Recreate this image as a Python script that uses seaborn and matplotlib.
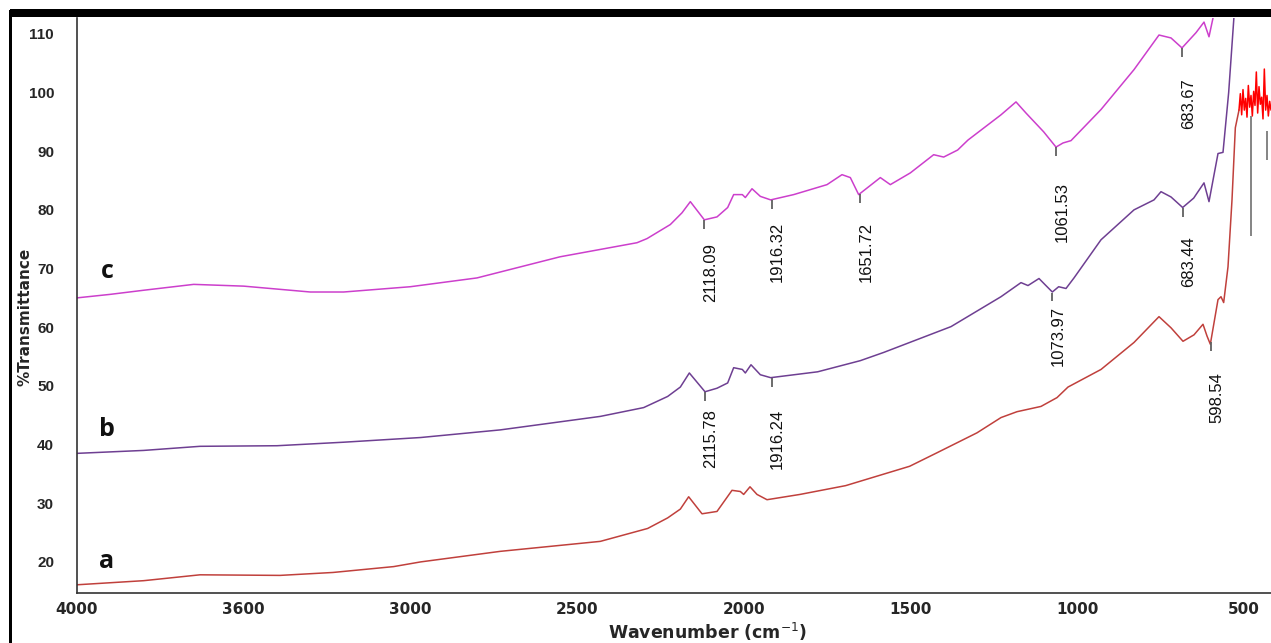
import numpy as np
import seaborn as sns
import matplotlib.pyplot as plt
from matplotlib.patches import Rectangle
from matplotlib.ticker import MultipleLocator

# spectrum c (top, magenta)
wn_c = [4000, 3900, 3800, 3650, 3500, 3300, 3200, 3000, 2800, 2551, 2320, 2290, 2220, 2185,
        2160, 2118, 2080, 2048, 2030, 2004, 1995, 1975, 1950, 1919, 1850, 1750, 1705, 1680,
        1655, 1590, 1560, 1500, 1430, 1400, 1358, 1327, 1228, 1183, 1153, 1100, 1063, 1042,
        1018, 928, 829, 754, 718, 685, 643, 619, 604, 589, 580]
t_c = [65.0, 65.6, 66.3, 67.3, 67.0, 66.0, 66.0, 66.9, 68.4, 72.0, 74.4, 75.1, 77.5, 79.5,
       81.4, 78.3, 78.8, 80.4, 82.6, 82.6, 82.1, 83.6, 82.3, 81.7, 82.6, 84.3, 86.0, 85.5,
       82.6, 85.5, 84.3, 86.3, 89.4, 89.0, 90.2, 91.9, 96.2, 98.4, 96.5, 93.3, 90.7, 91.4,
       91.8, 97.1, 103.9, 109.8, 109.3, 107.6, 110.2, 112.0, 109.5, 113.5, 118.0]

# spectrum b (middle, purple)
wn_b = [4000, 3800, 3631, 3400, 3200, 2969, 2730, 2430, 2300, 2228, 2190, 2163, 2116, 2080,
        2048, 2030, 2004, 1995, 1978, 1950, 1919, 1778, 1650, 1580, 1378, 1228, 1168, 1147,
        1114, 1095, 1074, 1055, 1033, 1009, 928, 829, 769, 748, 718, 683, 650, 619, 604,
        577, 562, 545, 529, 520]
t_b = [38.5, 39.0, 39.7, 39.8, 40.4, 41.2, 42.5, 44.8, 46.3, 48.2, 49.8, 52.2, 49.0, 49.6,
       50.5, 53.1, 52.8, 52.2, 53.6, 51.9, 51.4, 52.4, 54.3, 55.7, 60.1, 65.2, 67.6, 67.1,
       68.3, 67.2, 66.0, 66.9, 66.6, 68.4, 74.9, 80.0, 81.7, 83.1, 82.2, 80.4, 82.0, 84.6,
       81.4, 89.6, 89.8, 100.0, 113.0, 118.0]

# spectrum a (bottom, red)
wn_a = [4000, 3800, 3631, 3391, 3232, 3050, 2969, 2730, 2430, 2288, 2228, 2190, 2165, 2125,
        2080, 2035, 2010, 2000, 1981, 1960, 1930, 1831, 1694, 1502, 1420, 1300, 1228, 1180,
        1108, 1060, 1027, 928, 829, 754, 718, 682, 649, 622, 610, 600, 577, 568, 560, 547,
        535, 525, 514]
t_a = [16.1, 16.8, 17.8, 17.7, 18.2, 19.2, 20.0, 21.8, 23.5, 25.7, 27.5, 29.0, 31.1, 28.2,
       28.6, 32.2, 32.0, 31.5, 32.8, 31.5, 30.6, 31.5, 33.0, 36.3, 38.6, 42.0, 44.6, 45.6,
       46.5, 48.0, 49.8, 52.8, 57.4, 61.8, 59.9, 57.6, 58.7, 60.5, 58.5, 57.1, 64.7, 65.2,
       64.2, 70.3, 81.7, 94.0, 97.0]

# noisy low-wavenumber end of spectrum a
wn_noise = [514, 510, 506, 502, 498, 494, 490, 486, 482, 478, 474, 470, 466, 462, 458, 454,
            450, 446, 442, 438, 434, 430, 426, 422, 418]
t_noise = [97.0, 99.8, 96.2, 100.5, 97.0, 99.0, 95.8, 101.2, 97.5, 99.5, 96.0, 100.2, 97.8,
           103.5, 96.5, 101.0, 98.0, 99.2, 95.5, 104.0, 97.0, 99.5, 96.0, 98.5, 97.0]

# gray spikes at the right end
spike_wn = [477, 430]
spike_top = [96.0, 93.5]
spike_bot = [75.5, 88.5]

# marked peaks
peaks_c = ['2118.09', '1916.32', '1651.72', '1061.53', '683.67']
peaks_b = ['2115.78', '1916.24', '1073.97', '683.44']
peaks_a = ['598.54']
label_top_c = [74.4, 77.9, 77.9, 84.8, 102.5]
label_top_b = [46.1, 46.1, 63.6, 75.5]
label_top_a = [52.3]

xtick_pos = [4000, 3500, 3000, 2500, 2000, 1500, 1000, 500]
xtick_lab = ['4000', '3600', '3000', '2500', '2000', '1500', '1000', '500']

col_c = '#cc3fcc'
col_b = '#6e3f92'
col_a = '#c0403c'

sns.set_style('white')
plt.rcParams['font.family'] = ['DejaVu Sans']

fig = plt.figure(figsize=(12.71, 6.43), dpi=100)
ax = fig.add_axes([77 / 1271, 1 - 593 / 643, 1 - 77 / 1271, (593 - 18) / 643])

sns.lineplot(x=wn_c, y=t_c, sort=False, estimator=None, color=col_c, lw=1.1, ax=ax)
sns.lineplot(x=wn_b, y=t_b, sort=False, estimator=None, color=col_b, lw=1.1, ax=ax)
sns.lineplot(x=wn_a, y=t_a, sort=False, estimator=None, color=col_a, lw=1.1, ax=ax)
sns.lineplot(x=wn_noise, y=t_noise, sort=False, estimator=None, color='#ff0000', lw=1.1, ax=ax)
ax.vlines(spike_wn, spike_bot, spike_top, color='#707070', lw=1.2)

# peak markers and labels
for peaks, tops, wn, tt in [(peaks_c, label_top_c, wn_c, t_c),
                            (peaks_b, label_top_b, wn_b, t_b),
                            (peaks_a, label_top_a, wn_a, t_a)]:
    xs = np.array(wn[::-1], dtype=float)
    ys = np.array(tt[::-1], dtype=float)
    for p, top in zip(peaks, tops):
        pw = float(p)
        yv = np.interp(pw, xs, ys)
        ax.vlines(pw, yv - 1.6, yv - 0.1, color='#606060', lw=1.3)
        ax.text(pw - 18, top, p, rotation=90, ha='center', va='top', fontsize=12,
                family='Liberation Sans', color='#111111')

# curve letters
for letter, yy in [('c', 69.5), ('b', 42.5), ('a', 20.0)]:
    ax.text(3910, yy, letter, ha='center', va='center', fontsize=18, fontweight='bold',
            family='Open Sans', color='#111111')

ax.set_xlim(4000, 418)
ax.set_ylim(14.7, 112.7)
ax.set_xticks(xtick_pos)
ax.set_xticklabels(xtick_lab)
ax.xaxis.set_minor_locator(MultipleLocator(100))
ax.set_yticks(range(20, 111, 10))
ax.yaxis.set_minor_locator(MultipleLocator(2))
ax.tick_params(axis='both', which='major', direction='inout', length=5, width=1, color='#444444')
ax.tick_params(axis='both', which='minor', direction='inout', length=3, width=0.8, color='#666666')
ax.tick_params(axis='x', labelsize=11, pad=4)
ax.tick_params(axis='y', pad=14)
for lab in ax.get_xticklabels():
    lab.set_fontweight('bold')
for lab in ax.get_yticklabels():
    lab.set_fontweight('bold')
    lab.set_family('Liberation Sans')
    lab.set_fontsize(11)

for s in ['top', 'right']:
    ax.spines[s].set_visible(False)
for s in ['left', 'bottom']:
    ax.spines[s].set_color('#333333')
    ax.spines[s].set_linewidth(1.2)

ax.set_xlabel('Wavenumber (cm$^{-1}$)', fontsize=12.5, fontweight='bold')
ax.xaxis.set_label_coords(0.528, -0.049)
ax.set_ylabel('%Transmittance', fontsize=11, fontweight='bold')
ax.yaxis.set_label_coords(-0.037, 0.48)

# frame of the picture
fig.add_artist(Rectangle((10 / 1271, 1 - 17 / 643), 1, 8 / 643, transform=fig.transFigure,
                         color='black', lw=0))
fig.add_artist(Rectangle((9 / 1271, 0), 2.5 / 1271, 1 - 10 / 643, transform=fig.transFigure,
                         color='black', lw=0))

fig.savefig('out.png', dpi=100)
